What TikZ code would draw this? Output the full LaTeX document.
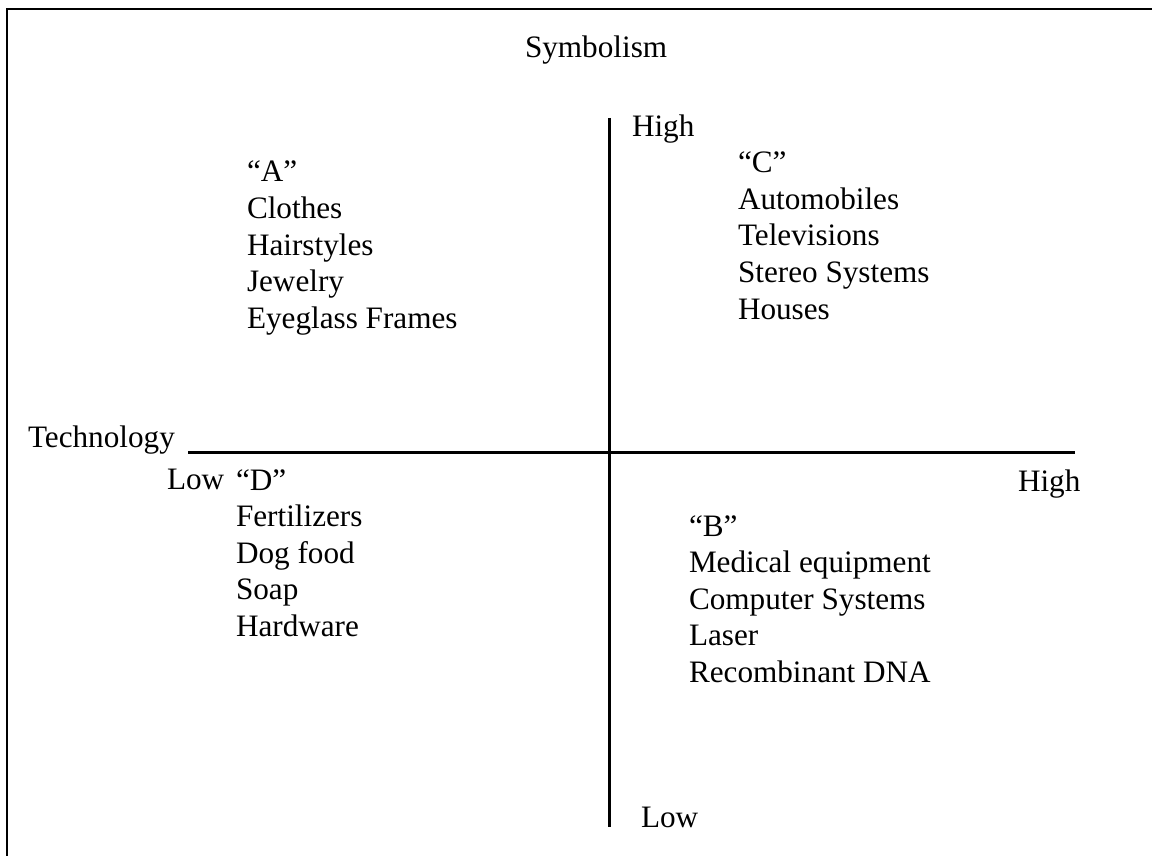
\documentclass[tikz,border=0pt]{standalone}
\usepackage{fontspec}
\setmainfont{Liberation Serif}
\begin{document}
\begin{tikzpicture}[x=1pt,y=-1pt,
  lbl/.style={anchor=base west, inner sep=0pt, outer sep=0pt,
    font=\fontsize{31.2}{36.6}\selectfont},
  axis/.style={line width=3pt},
  frame/.style={line width=2.6pt}]
\useasboundingbox (0,0) rectangle (1152,856);

% frame (top and left edges)
\coordinate (fbl) at (7,856);
\coordinate (ftl) at (7,9);
\coordinate (ftr) at (1152,9);
\draw[frame] (fbl) -- (ftl) -- (ftr);

% axes
\coordinate (vtop) at (609.5,118);
\coordinate (vbot) at (609.5,827);
\coordinate (hleft) at (188,452);
\coordinate (hright) at (1075,452);
\draw[axis] (vtop) -- (vbot);
\draw[axis] (hleft) -- (hright);

% axis titles and ends
\node[lbl] (symb) at (525,58) {Symbolism};
\node[lbl] (vhigh) at (632,137) {High};
\node[lbl] (vlow) at (641,827) {Low};
\node[lbl] (tech) at (28,447) {Technology};
\node[lbl] (hlow) at (167,489) {Low};
\node[lbl] (hhigh) at (1018,491) {High};

% quadrant lists
\foreach [count=\i] \t in {“A”, Clothes, Hairstyles, Jewelry, Eyeglass Frames}
  \node[lbl] (a\i) at (247,{182+36.6*(\i-1)}) {\t};
\foreach [count=\i] \t in {“C”, Automobiles, Televisions, Stereo Systems, Houses}
  \node[lbl] (c\i) at (738,{172.6+36.6*(\i-1)}) {\t};
\foreach [count=\i] \t in {“D”, Fertilizers, Dog food, Soap, Hardware}
  \node[lbl] (d\i) at (236,{490+36.6*(\i-1)}) {\t};
\foreach [count=\i] \t in {“B”, Medical equipment, Computer Systems, Laser, Recombinant DNA}
  \node[lbl] (b\i) at (689,{536+36.6*(\i-1)}) {\t};
\end{tikzpicture}
\end{document}
